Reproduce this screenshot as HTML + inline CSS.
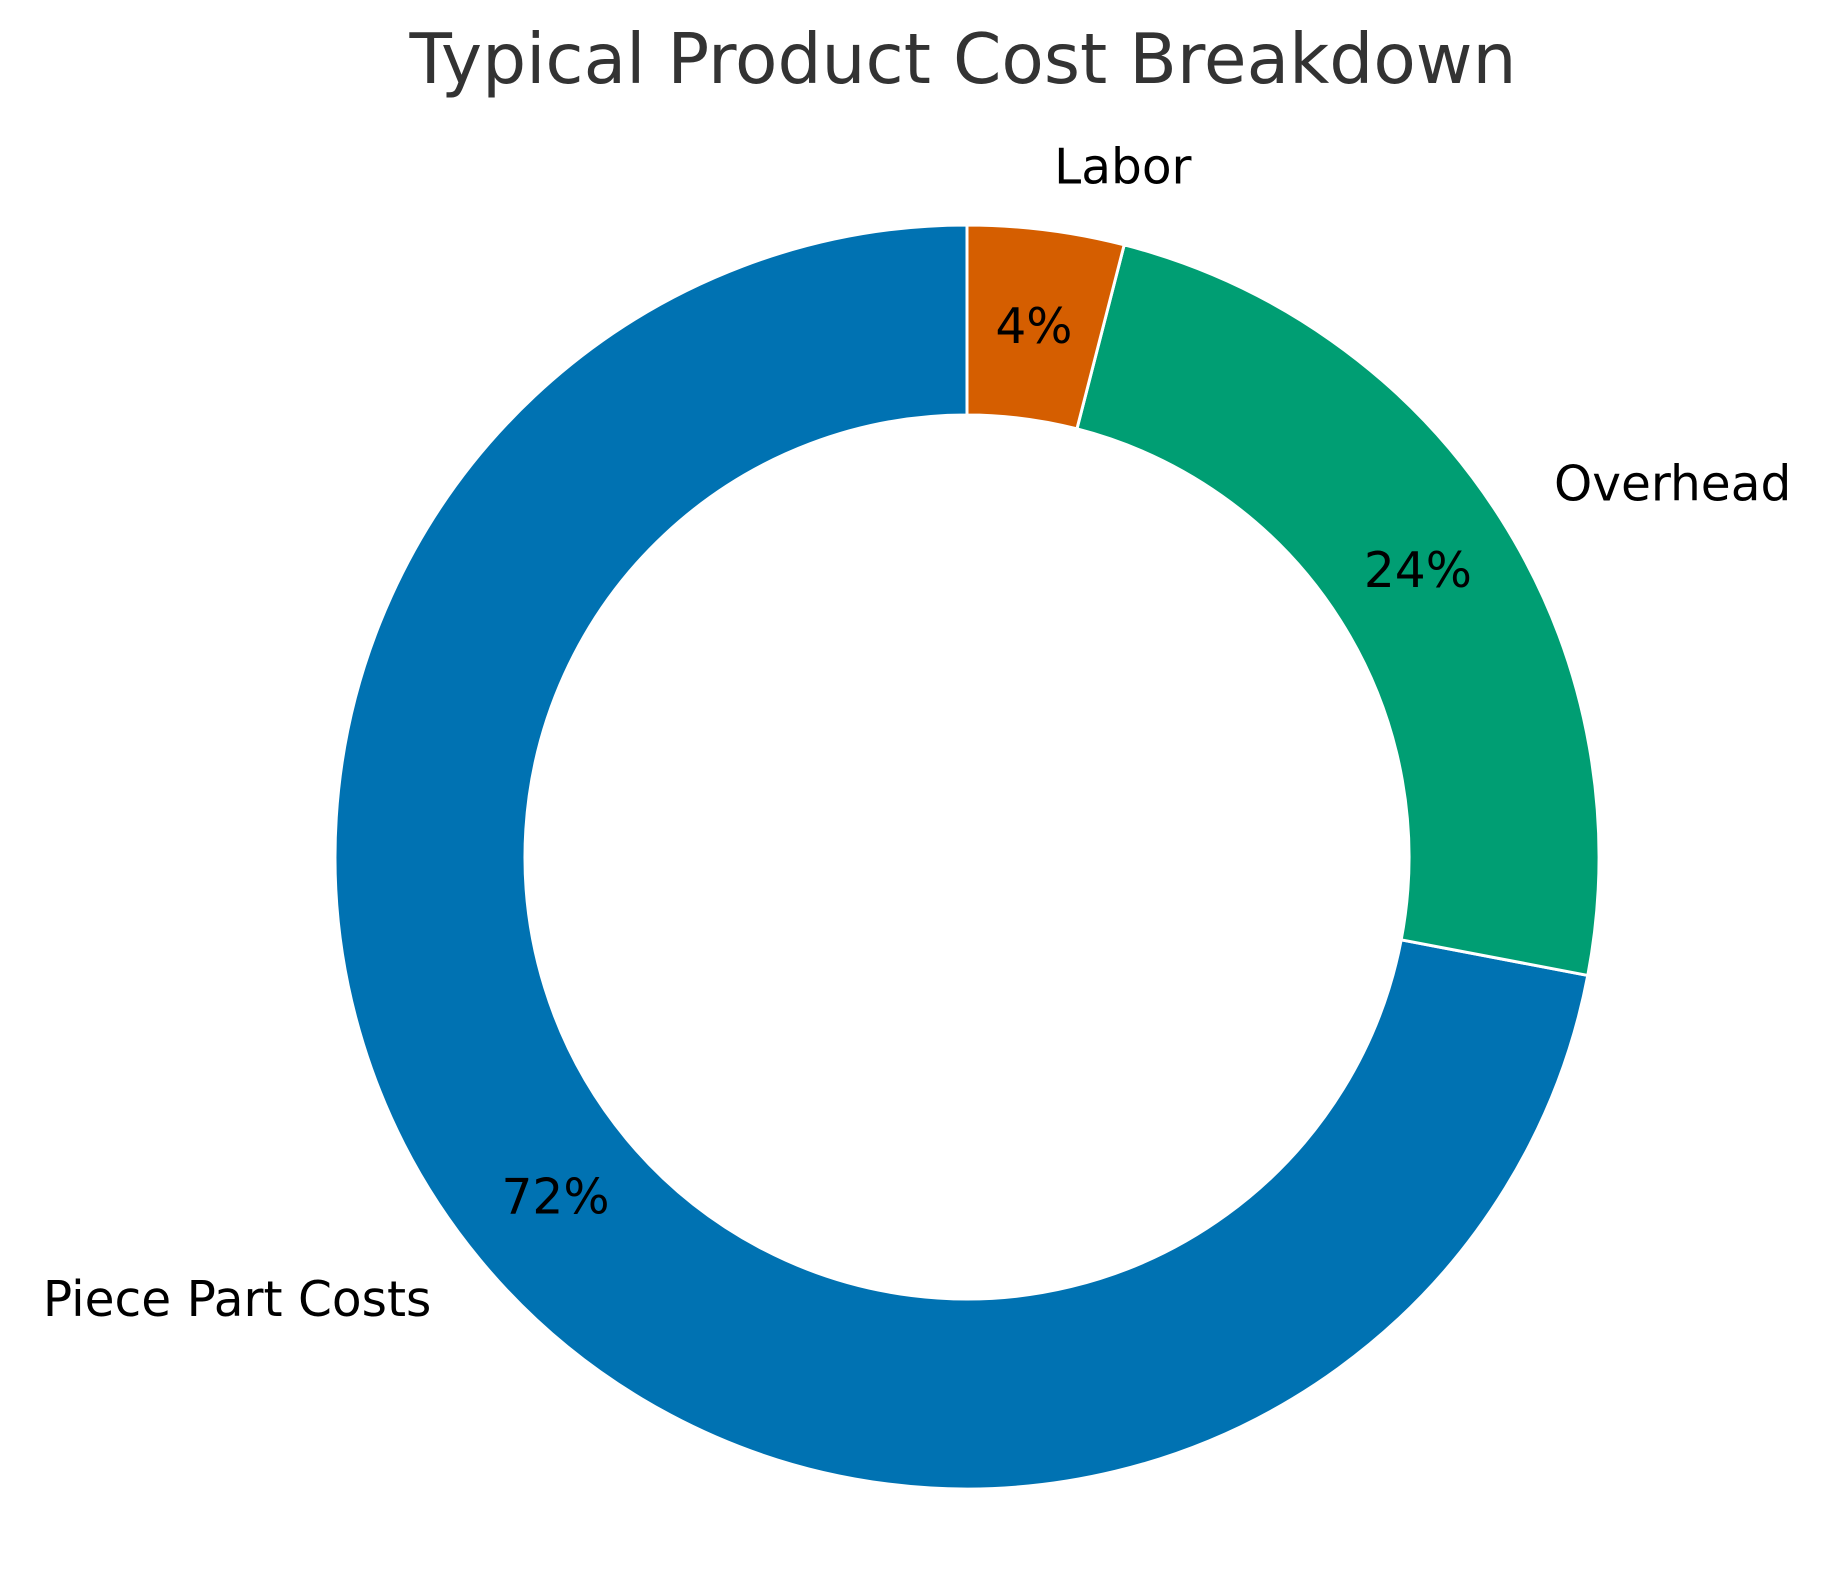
<!DOCTYPE html>
<html><head><meta charset="utf-8"><style>
html,body{margin:0;padding:0;background:#fff;}
svg{display:block;font-family:"DejaVu Sans","Liberation Sans",sans-serif;}
</style></head><body>
<svg id="chart" width="1830" height="1581" viewBox="0 0 1830 1581" xmlns="http://www.w3.org/2000/svg">
<rect width="1830" height="1581" fill="#ffffff"/>
<text x="963" y="83" text-anchor="middle" font-size="69.4" fill="#333333">Typical Product Cost Breakdown</text>
<g id="slices"></g>
<g id="labels"></g>
</svg>
<script>
const categories = ["Piece Part Costs", "Overhead", "Labor"];
const values = [72, 24, 4];
const colors = ["#0072b2", "#009e73", "#d55e00"];
const pctLabels = ["72%", "24%", "4%"];

const cx = 967, cy = 857, R = 632, r = 442;
const NS = "http://www.w3.org/2000/svg";
const total = values.reduce((a, b) => a + b, 0);
function angleScale(v) { return v / total * 2 * Math.PI; }
function pt(rad, a) { return [cx + rad * Math.cos(a), cy - rad * Math.sin(a)]; }

const gS = document.getElementById("slices");
const gL = document.getElementById("labels");
let start = Math.PI / 2;
values.forEach((v, i) => {
  const sweep = angleScale(v);
  const end = start + sweep;
  const large = sweep > Math.PI ? 1 : 0;
  const [x1, y1] = pt(R, start), [x2, y2] = pt(R, end);
  const [x3, y3] = pt(r, end), [x4, y4] = pt(r, start);
  const d = `M${x1},${y1} A${R},${R} 0 ${large} 0 ${x2},${y2} L${x3},${y3} A${r},${r} 0 ${large} 1 ${x4},${y4} Z`;
  const p = document.createElementNS(NS, "path");
  p.setAttribute("d", d);
  p.setAttribute("fill", colors[i]);
  p.setAttribute("stroke", "#ffffff");
  p.setAttribute("stroke-width", "3");
  
  
  gS.appendChild(p);

  const mid = start + sweep / 2;
  const [lx, ly] = pt(R * 1.1, mid);
  const t = document.createElementNS(NS, "text");
  t.setAttribute("x", lx);
  t.setAttribute("y", ly);
  t.setAttribute("font-size", "48.6");
  t.setAttribute("dominant-baseline", "central");
  t.setAttribute("text-anchor", Math.cos(mid) >= 0 ? "start" : "end");
  t.textContent = categories[i];
  
  
  gL.appendChild(t);

  const [px, py] = pt(R * 0.845, mid);
  const tp = document.createElementNS(NS, "text");
  tp.setAttribute("x", px);
  tp.setAttribute("y", py);
  tp.setAttribute("font-size", "48.6");
  tp.setAttribute("dominant-baseline", "central");
  tp.setAttribute("text-anchor", "middle");
  tp.textContent = pctLabels[i];
  
  
  gL.appendChild(tp);

  start = end;
});
</script>
</body></html>
